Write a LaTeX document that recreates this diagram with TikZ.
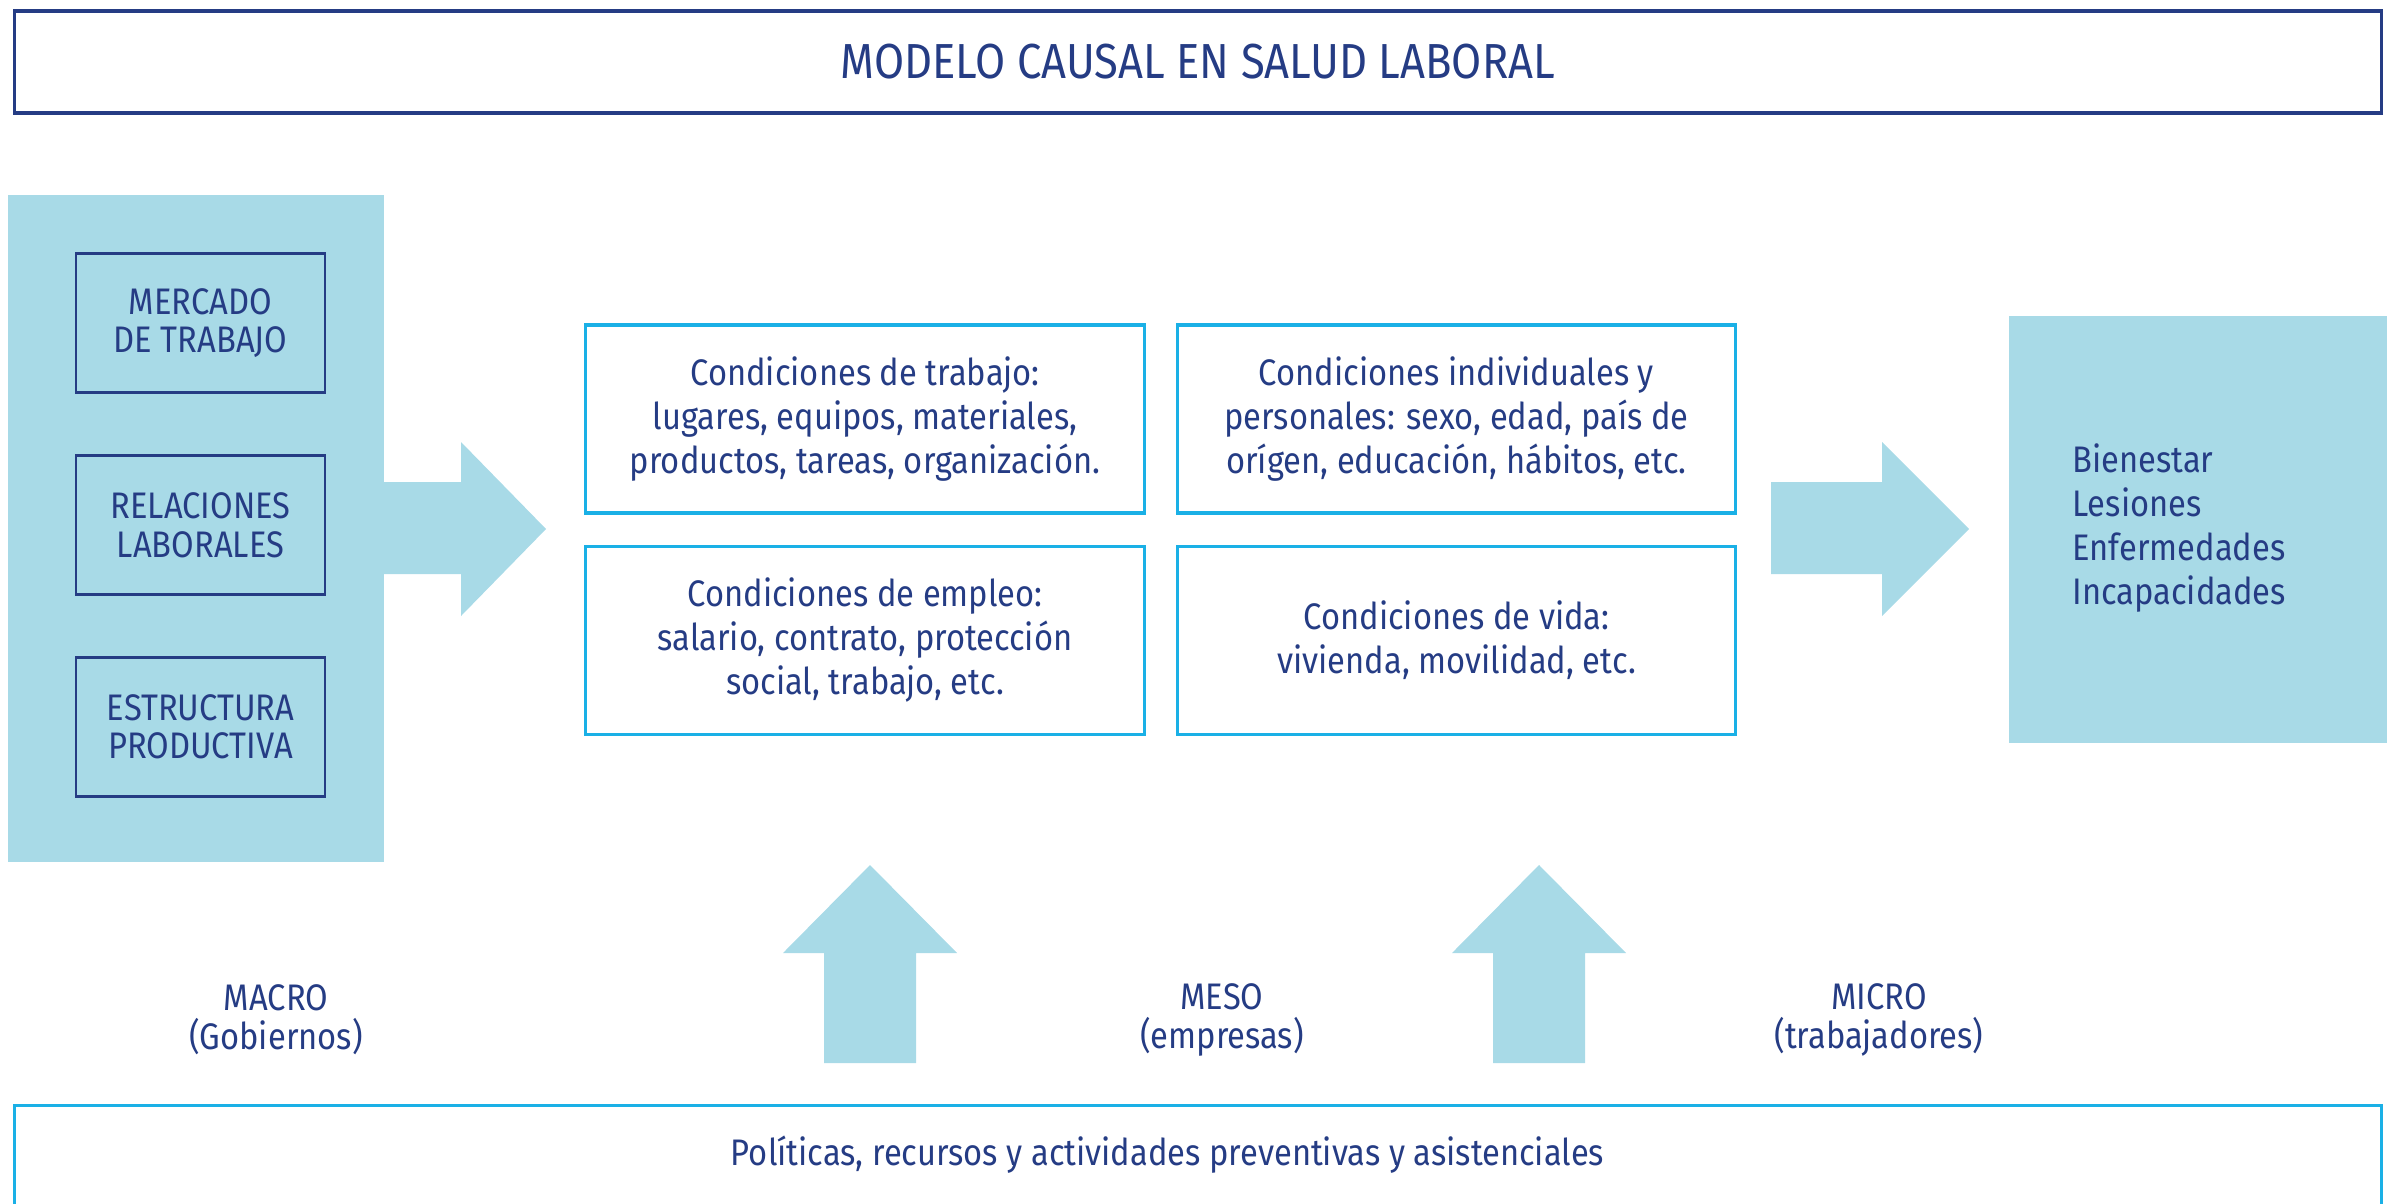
\documentclass[tikz,border=0pt]{standalone}
\usepackage{fontspec}
\setmainfont{Fira Sans}[FakeStretch=0.885]
\usetikzlibrary{positioning}

\definecolor{navy}{HTML}{253C84}
\definecolor{celeste}{HTML}{A8DAE7}
\definecolor{cian}{HTML}{1AB0E6}

\tikzset{
  titulo/.style={draw=navy, line width=0.9pt, text=navy, minimum width=23.66cm, minimum height=1.02cm, font=\fontsize{14}{17}\selectfont},
  panel/.style={fill=celeste, inner sep=0pt},
  caja/.style={draw=navy, line width=0.8pt, text=navy, align=center, minimum width=2.49cm, minimum height=1.39cm, inner sep=0pt, font=\fontsize{10.5}{11}\selectfont},
  cond/.style={draw=cian, line width=0.9pt, text=navy, align=center, minimum width=5.58cm, minimum height=1.88cm, inner sep=0pt, font=\fontsize{10.5}{12.5}\selectfont},
  flecha/.style={fill=celeste},
  nivel/.style={text=navy, align=center, font=\fontsize{10.5}{11}\selectfont},
}

\begin{document}
\begin{tikzpicture}[x=0.01cm, y=-0.01cm]
    \useasboundingbox (0,0) rectangle (2392,1203);

    % titulo
    \node[titulo] (titulo) at (1198,62) {MODELO CAUSAL EN SALUD LABORAL};

    % nivel macro
    \node[panel, minimum width=3.76cm, minimum height=6.67cm] (macro) at (196,528.5) {};
    \node[caja] (mercado) at (200.5,323) {MERCADO\\DE TRABAJO};
    \node[caja, below=0.6cm of mercado] (relaciones) {RELACIONES\\LABORALES};
    \node[caja, below=0.6cm of relaciones] (estructura) {ESTRUCTURA\\PRODUCTIVA};

    % condiciones
    \node[cond] (trabajo) at (865,419) {Condiciones de trabajo:\\lugares, equipos, materiales,\\productos, tareas, organización.};
    \node[cond, right=0.3cm of trabajo] (individual) {Condiciones individuales y\\personales: sexo, edad, país de\\orígen, educación, hábitos, etc.};
    \node[cond, below=0.3cm of trabajo] (empleo) {Condiciones de empleo:\\salario, contrato, protección\\social, trabajo, etc.};
    \node[cond, below=0.3cm of individual] (vida) {Condiciones de vida:\\vivienda, movilidad, etc.};

    % efectos
    \node[panel, minimum width=3.78cm, minimum height=4.27cm] (salud) at (2198,529.5) {};
    \node[text=navy, align=left, anchor=west, font=\fontsize{10.5}{12.5}\selectfont] (efectos) at (2060,528) {Bienestar\\Lesiones\\Enfermedades\\Incapacidades};

    % flechas
    \fill[flecha] (384,482) -- (461,482) -- (461,442) -- (546,529) -- (461,616) -- (461,574) -- (384,574) -- cycle;
    \fill[flecha] (1771,482) -- (1882,482) -- (1882,442) -- (1969,529) -- (1882,616) -- (1882,574) -- (1771,574) -- cycle;
    \fill[flecha] (824,1063) -- (824,953) -- (783,953) -- (870,865) -- (957,953) -- (916,953) -- (916,1063) -- cycle;
    \fill[flecha] (1493,1063) -- (1493,953) -- (1452,953) -- (1539,865) -- (1626,953) -- (1585,953) -- (1585,1063) -- cycle;

    % niveles
    \node[nivel] (macrotxt) at (276,1020) {MACRO\\(Gobiernos)};
    \node[nivel] (mesotxt) at (1222,1020) {MESO\\(empresas)};
    \node[nivel] (microtxt) at (1879,1020) {MICRO\\(trabajadores)};

    % politicas
    \node[draw=cian, line width=0.9pt, text=navy, anchor=north, minimum width=23.66cm, inner sep=0pt, text height=0.6cm, text depth=0.6cm, font=\fontsize{10.5}{11}\selectfont] (politicas) at (1198,1104) {Políticas, recursos y actividades preventivas y asistenciales\hspace*{0.61cm}};
\end{tikzpicture}
\end{document}
